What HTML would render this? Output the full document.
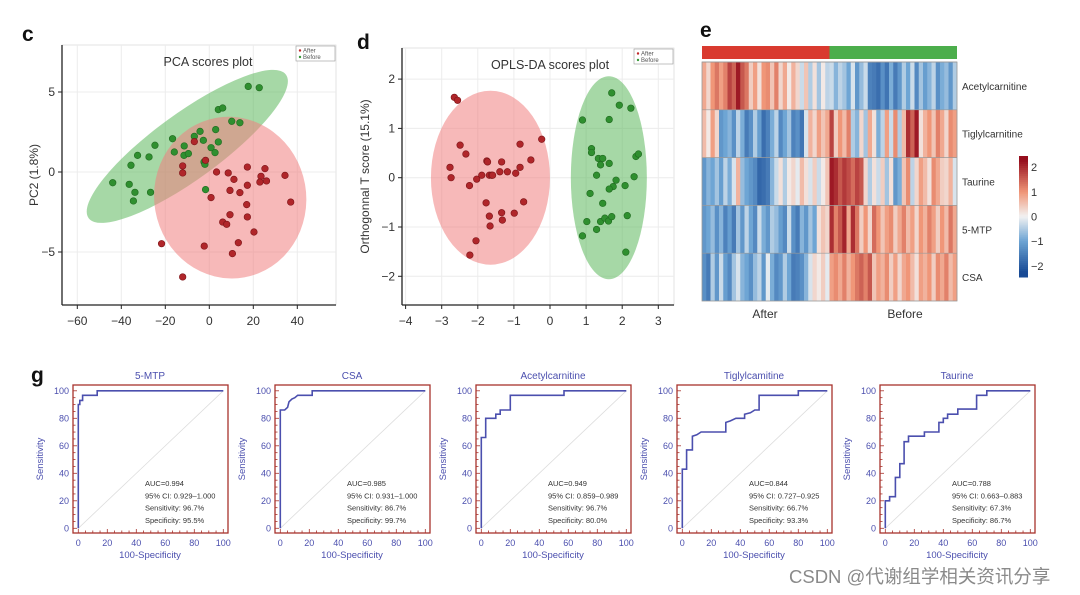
<!DOCTYPE html>
<html><head><meta charset="utf-8"><style>
html,body{margin:0;padding:0;background:#fff;}
svg{display:block;font-family:"Liberation Sans",Arial,sans-serif;}
</style></head><body>
<svg id="fig" width="1080" height="595" viewBox="0 0 1080 595" xmlns="http://www.w3.org/2000/svg"></svg>
<script>
// ---------- PCA data ----------
const pcaGreenX=[17.7,22.7,4.1,6.1,10.2,13.9,-4.2,2.9,-16.7,-6.8,-2.7,4.1,-24.7,-32.6,-27.4,-35.6,-15.9,-11.4,-11.5,-9.5,0.8,2.6,-2.4,-2.0,-43.9,-36.4,-33.8,-26.7,-34.5,-1.7];
const pcaGreenY=[5.35,5.27,3.9,4.0,3.17,3.08,2.54,2.65,2.08,2.23,1.98,1.88,1.67,1.04,0.94,0.42,1.25,1.63,1.04,1.15,1.52,1.21,0.63,0.48,-0.67,-0.77,-1.27,-1.27,-1.81,-1.1];
const pcaRedX=[-6.8,-1.7,-12.1,-12.1,3.3,8.6,11.2,17.3,25.3,23.5,23,26,34.4,17.3,9.4,13.9,0.8,37,17,9.4,17.3,6.1,7.9,20.3,-21.7,-2.3,13.2,10.5,-12.1];
const pcaRedY=[1.9,0.73,0.38,-0.06,0,-0.06,-0.46,0.31,0.21,-0.27,-0.63,-0.56,-0.21,-0.83,-1.15,-1.29,-1.6,-1.88,-2.04,-2.67,-2.81,-3.13,-3.27,-3.75,-4.48,-4.63,-4.42,-5.1,-6.56];
const pcaXTicks=[-60,-40,-20,0,20,40];
const pcaYTicks=[-5,0,5];
// ---------- OPLS data ----------
const oplsRedX=[-2.65,-2.56,-2.49,-2.33,-2.77,-2.74,-2.23,-2.03,-1.89,-1.75,-1.73,-1.68,-1.62,-1.59,-1.34,-1.39,-1.18,-0.95,-0.83,-0.83,-0.53,-0.23,-1.77,-1.68,-1.66,-1.34,-1.32,-0.99,-0.73,-2.05,-2.22];
const oplsRedY=[1.63,1.57,0.66,0.48,0.21,0.0,-0.16,-0.03,0.05,0.34,0.32,0.05,0.05,0.05,0.32,0.12,0.12,0.09,0.68,0.21,0.36,0.78,-0.51,-0.78,-0.98,-0.71,-0.86,-0.72,-0.49,-1.28,-1.57];
const oplsGreenX=[1.71,1.92,2.24,0.9,1.64,1.15,1.15,1.34,1.46,1.4,1.64,2.38,2.45,2.33,1.29,1.83,1.75,1.64,2.08,1.11,1.46,1.02,1.4,1.52,1.62,1.71,2.14,1.29,0.9,2.1];
const oplsGreenY=[1.72,1.47,1.41,1.17,1.18,0.59,0.51,0.39,0.39,0.26,0.29,0.43,0.48,0.02,0.05,-0.05,-0.18,-0.23,-0.16,-0.32,-0.52,-0.89,-0.89,-0.82,-0.88,-0.79,-0.77,-1.05,-1.18,-1.51];
const oplsXTicks=[-4,-3,-2,-1,0,1,2,3];
const oplsYTicks=[-2,-1,0,1,2];
// ---------- Heatmap data ----------
const hmRows=["Acetylcarnitine","Tiglylcarnitine","Taurine","5-MTP","CSA"];
const hmAcetyl=[0.8,0.3,1.0,1.3,0.9,1.2,1.8,1.5,2.2,1.6,1.3,0.4,0.9,0.2,1.0,1.1,0.5,1.2,0.3,0.8,0.1,0.7,0.3,-0.3,0.5,-0.5,0.2,-0.6,0.1,-0.4,-0.3,-0.8,-0.4,-0.6,-1.0,-0.2,-1.2,-0.7,-0.3,-1.5,-1.6,-1.8,-1.3,-1.7,-0.9,-1.6,-1.2,-0.5,-1.0,-0.3,-1.4,-0.6,-1.1,-0.8,-0.4,-1.3,-0.9,-0.7,-1.2,-0.5];
const hmTiglyl=[0.6,0.1,0.9,0.3,-1.2,-1.0,-0.8,-1.3,-0.4,-0.9,-1.6,-1.3,-0.5,-1.1,-1.8,-1.5,-0.9,-0.4,-1.4,-1.0,-0.6,-1.5,-1.3,-1.7,-0.2,0.7,0.3,0.9,0.5,0.8,1.8,0.4,1.0,0.6,1.2,-0.5,-0.8,0.3,-0.6,0.8,0.2,-0.9,-0.4,0.9,-0.3,1.1,-0.5,0.6,2.0,1.5,2.2,0.2,0.7,1.0,0.5,1.2,0.8,0.3,1.1,0.9];
const hmTaurine=[-1.2,-0.8,-1.0,-0.6,-1.1,-0.4,-0.9,-0.2,0.7,-0.7,-1.0,-1.2,-1.4,-1.9,-1.8,-1.6,-0.8,-0.3,0.2,-0.5,0.1,0.3,-0.1,0.6,0.2,-0.2,0.4,-0.3,0.1,0.5,2.2,2.0,1.6,1.9,1.7,1.4,1.8,1.6,0.3,-0.5,0.2,-0.3,0.4,-0.6,0.2,-1.2,-0.9,0.5,1.1,-0.4,0.3,0.9,0.6,0.2,1.1,0.8,0.4,0.3,0.7,-0.2];
const hmMTP=[-1.2,-1.0,-0.7,-1.3,-0.8,-1.5,-1.1,-1.6,-0.6,-1.2,-0.4,-1.0,-1.4,-0.3,-0.9,-1.2,-0.5,-0.7,-1.1,-1.4,-0.3,-1.3,-1.6,-0.8,-1.2,-0.6,-1.0,0.2,0.5,0.3,2.0,1.2,1.6,2.1,0.8,2.0,1.3,0.4,1.0,0.3,1.4,1.0,0.5,0.9,1.1,0.4,0.8,1.2,0.6,0.9,0.3,1.0,0.7,1.2,0.9,0.4,1.0,0.6,1.3,0.8];
const hmCSA=[-1.3,-1.6,-0.5,-1.2,-0.3,-1.1,-1.4,-0.6,-0.2,-0.8,-1.0,-1.3,-0.7,-0.4,-1.2,-0.1,-0.9,-1.4,-1.2,-0.5,-1.0,-1.6,-1.5,-1.3,-0.8,-0.2,0.3,0.1,0.4,-0.1,0.9,1.1,0.8,1.2,0.7,1.0,1.3,1.5,1.2,1.6,0.5,0.9,0.7,1.1,0.4,0.9,0.3,0.8,1.0,0.6,0.2,0.9,0.7,1.0,0.4,1.1,0.8,1.2,0.6,0.9];
const hmGroupSize=[30,30];
const cbTicks=[2,1,0,-1,-2];
// ---------- ROC data ----------
const rocTitles=["5-MTP","CSA","Acetylcarnitine","Tiglylcamitine","Taurine"];
const rocFpr1=[0,0,1,1,3,3,13,13,100];
const rocTpr1=[0,90,90,93,93,96.7,96.7,100,100];
const rocFpr2=[0,0,3,5,6,8,10,12,22,22,100];
const rocTpr2=[0,86,86,88,92,94,95,96.7,96.7,100,100];
const rocFpr3=[0,0,3,3,10,10,13,13,20,20,57,57,100];
const rocTpr3=[0,66,66,80,80,83,83,86,86,96.7,96.7,100,100];
const rocFpr4=[0,0,3,3,7,7,10,13,30,30,33,37,43,43,47,50,53,53,80,80,100];
const rocTpr4=[0,43,43,57,57,67,68,70,70,77,78,80,80,83,84,86,86,96.7,96.7,100,100];
const rocFpr5=[0,0,3,3,7,7,10,10,13,13,16,16,27,27,37,37,40,40,43,43,50,50,63,63,70,70,100];
const rocTpr5=[0,20,20,23,23,37,37,47,47,63,63,67,67,70,70,77,77,80,80,83,83,86.7,86.7,96.7,96.7,100,100];
const rocAUC=["AUC=0.994","AUC=0.985","AUC=0.949","AUC=0.844","AUC=0.788"];
const rocCI=["95% CI: 0.929–1.000","95% CI: 0.931–1.000","95% CI: 0.859–0.989","95% CI: 0.727–0.925","95% CI: 0.663–0.883"];
const rocSens=["Sensitivity: 96.7%","Sensitivity: 86.7%","Sensitivity: 96.7%","Sensitivity: 66.7%","Sensitivity: 67.3%"];
const rocSpec=["Specificity: 95.5%","Specificity: 99.7%","Specificity: 80.0%","Specificity: 93.3%","Specificity: 86.7%"];
const rocXTicks=[0,20,40,60,80,100];
const rocYTicks=[0,20,40,60,80,100];

const NS="http://www.w3.org/2000/svg";
const svg=document.getElementById('fig');
function mk(tag,attrs,parent,txt){const e=document.createElementNS(NS,tag);for(const k in attrs)e.setAttribute(k,attrs[k]);if(txt!==undefined)e.textContent=txt;(parent||svg).appendChild(e);return e;}
function grp(parent){return mk('g',{},parent);}

[["c",22,41],["d",357,49],["e",700,37],["g",31,382]].forEach(l=>{
  const t=mk('text',{x:l[1],y:l[2],'font-size':21,'font-weight':'bold',fill:'#111'},svg,l[0]);
  
  
});

function scatterPanel(o){
  const g=grp();
  
  
  const sx=v=>o.x0+(v-o.xmin)*o.kx, sy=v=>o.y0-(v-o.ymin)*o.ky;
  mk('rect',{x:o.fx,y:o.fy,width:o.fw,height:o.fh,fill:'#fff',stroke:'#ddd','stroke-width':0.8},g);
  o.xt.forEach(v=>{mk('line',{x1:sx(v),x2:sx(v),y1:o.fy,y2:o.fy+o.fh,stroke:'#ececec','stroke-width':1},g);});
  o.yt.forEach(v=>{mk('line',{x1:o.fx,x2:o.fx+o.fw,y1:sy(v),y2:sy(v),stroke:'#ececec','stroke-width':1},g);});
  o.ell.forEach(e=>{
    const el=mk('ellipse',{cx:sx(e.cx),cy:sy(e.cy),rx:e.rx,ry:e.ry,fill:e.fill,'fill-opacity':0.55,transform:`rotate(${e.rot} ${sx(e.cx)} ${sy(e.cy)})`},g);
    
    
  });
  o.series.forEach(s=>{
    s.x.forEach((v,i)=>{
      const c=mk('circle',{cx:sx(v),cy:sy(s.y[i]),r:3.3,fill:s.col,stroke:s.stroke,'stroke-width':0.6},g);
      
      
    });
  });
  mk('line',{x1:o.fx,x2:o.fx,y1:o.fy,y2:o.fy+o.fh,stroke:'#222','stroke-width':1.3},g);
  mk('line',{x1:o.fx,x2:o.fx+o.fw,y1:o.fy+o.fh,y2:o.fy+o.fh,stroke:'#222','stroke-width':1.3},g);
  o.xt.forEach(v=>{
    mk('line',{x1:sx(v),x2:sx(v),y1:o.fy+o.fh,y2:o.fy+o.fh+4,stroke:'#222'},g);
    const t=mk('text',{x:sx(v),y:o.fy+o.fh+20,'text-anchor':'middle','font-size':12,fill:'#333'},g,v<0?'−'+Math.abs(v):v);
    
    
  });
  o.yt.forEach(v=>{
    mk('line',{x1:o.fx-4,x2:o.fx,y1:sy(v),y2:sy(v),stroke:'#222'},g);
    const t=mk('text',{x:o.fx-7,y:sy(v)+4,'text-anchor':'end','font-size':12,fill:'#333'},g,v<0?'−'+Math.abs(v):v);
    
    
  });
  const yt=mk('text',{x:0,y:0,'text-anchor':'middle','font-size':12,fill:'#333',transform:`translate(${o.ylx} ${o.fy+o.fh/2}) rotate(-90)`},g,o.ylab);
  
  
  const tt=mk('text',{x:o.tx,y:o.fy+21,'text-anchor':'middle','font-size':12.5,fill:'#333'},g,o.title);
  
  
  const lg=grp(g);
  
  
  const lx=o.fx+o.fw-40;
  mk('rect',{x:lx,y:o.fy+1,width:39,height:15,fill:'#fff',stroke:'#999','stroke-width':0.6},lg);
  mk('circle',{cx:lx+4,cy:o.fy+5.5,r:1.2,fill:'#c0282a'},lg);
  mk('text',{x:lx+7,y:o.fy+7.5,'font-size':6,fill:'#555'},lg,'After');
  mk('circle',{cx:lx+4,cy:o.fy+12,r:1.2,fill:'#3a9a3a'},lg);
  mk('text',{x:lx+7,y:o.fy+14,'font-size':6,fill:'#555'},lg,'Before');
}

scatterPanel({name:'pca-scores-plot',fx:62,fy:45,fw:274,fh:260,x0:209.3,xmin:0,kx:2.2,y0:172,ymin:0,ky:16,
  xt:pcaXTicks,yt:pcaYTicks,ylab:'PC2 (1.8%)',ylx:38,title:'PCA scores plot',tx:208,
  ell:[{name:'before-ellipse',cx:-10,cy:1.6,rx:122,ry:33,rot:-36,fill:'#5cb85c'},{name:'after-ellipse',cx:9.5,cy:-1.6,rx:76,ry:81,rot:-10,fill:'#f07f7f'}],
  series:[{name:'before-point',x:pcaGreenX,y:pcaGreenY,col:'#2f8f2f',stroke:'#1f6a1f'},{name:'after-point',x:pcaRedX,y:pcaRedY,col:'#b0262a',stroke:'#7c1418'}]});

scatterPanel({name:'opls-da-scores-plot',fx:402,fy:48,fw:272,fh:257,x0:550,xmin:0,kx:36.1,y0:177.7,ymin:0,ky:49.3,
  xt:oplsXTicks,yt:oplsYTicks,ylab:'Orthogonnal T score  (15.1%)',ylx:369,title:'OPLS-DA scores plot',tx:550,
  ell:[{name:'after-ellipse',cx:-1.65,cy:0,rx:59.5,ry:87,rot:0,fill:'#f07f7f'},{name:'before-ellipse',cx:1.63,cy:0,rx:38,ry:101.5,rot:0,fill:'#5cb85c'}],
  series:[{name:'after-point',x:oplsRedX,y:oplsRedY,col:'#b0262a',stroke:'#7c1418'},{name:'before-point',x:oplsGreenX,y:oplsGreenY,col:'#2f8f2f',stroke:'#1f6a1f'}]});

const stops=[[-2.3,[25,75,150]],[-1,[110,165,212]],[0,[242,242,242]],[1,[240,150,120]],[2.3,[150,15,30]]];
function cmap(v){
  if(v<=stops[0][0])return `rgb(${stops[0][1]})`;
  for(let i=0;i<stops.length-1;i++){const a=stops[i],b=stops[i+1];if(v<=b[0]){const t=(v-a[0])/(b[0]-a[0]);return `rgb(${a[1].map((c,j)=>Math.round(c+(b[1][j]-c)*t)).join(',')})`;}}
  return `rgb(${stops[stops.length-1][1]})`;
}
(function(){
  const g=grp();
  
  
  const hx=702,hw=255,hy=62,rh=47.8;
  const rows=[hmAcetyl,hmTiglyl,hmTaurine,hmMTP,hmCSA];
  const n=hmAcetyl.length,cw=hw/n;
  const split=hx+cw*hmGroupSize[0];
  const ga=mk('rect',{x:hx,y:46,width:split-hx,height:13,fill:'#d93a2f'},g);
  
  
  const gb=mk('rect',{x:split,y:46,width:hx+hw-split,height:13,fill:'#4cae4c'},g);
  
  
  rows.forEach((r,ri)=>{
    r.forEach((v,ci)=>{
      const c=mk('rect',{x:hx+ci*cw,y:hy+ri*rh,width:cw+0.3,height:rh,fill:cmap(v)},g);
      
      
    });
    mk('line',{x1:hx,x2:hx+hw,y1:hy+ri*rh,y2:hy+ri*rh,stroke:'#999','stroke-width':0.7},g);
    const t=mk('text',{x:962,y:hy+ri*rh+rh/2+4,'font-size':10,fill:'#333'},g,hmRows[ri]);
    
    
  });
  mk('rect',{x:hx,y:hy,width:hw,height:rh*5,fill:'none',stroke:'#999','stroke-width':0.8},g);
  const a=mk('text',{x:765,y:318,'text-anchor':'middle','font-size':12,fill:'#333'},g,'After');
  
  
  const b=mk('text',{x:905,y:318,'text-anchor':'middle','font-size':12,fill:'#333'},g,'Before');
  
  
  const cb=grp(g);
  
  
  const cy0=156,cy1=277,N=60;
  for(let i=0;i<N;i++){const v=2.45-4.9*i/(N-1);mk('rect',{x:1019,y:cy0+(cy1-cy0)*i/N,width:9,height:(cy1-cy0)/N+0.5,fill:cmap(v)},cb);}
  cbTicks.forEach(v=>{
    const y=cy0+(2.45-v)/4.9*(cy1-cy0);
    const t=mk('text',{x:1031,y:y+4,'font-size':11,fill:'#333'},cb,v<0?'−'+Math.abs(v):v);
    
    
  });
})();

const rocF=[rocFpr1,rocFpr2,rocFpr3,rocFpr4,rocFpr5];
const rocT=[rocTpr1,rocTpr2,rocTpr3,rocTpr4,rocTpr5];
const frames=[73,275,476,677,880];
frames.forEach((fx,p)=>{
  const g=grp();
  
  
  const x0=fx+5.3,w=145,y0=528.3,h=137.5;
  const sx=v=>x0+v/100*w, sy=v=>y0-v/100*h;
  const blue='#4b4fae',red='#a8322c';
  mk('line',{x1:sx(0),y1:sy(0),x2:sx(100),y2:sy(100),stroke:'#ddd','stroke-width':0.8},g);
  for(let v=0;v<=100;v+=5){
    const L=v%20===0?4:2.5;
    mk('line',{x1:sx(v),x2:sx(v),y1:533,y2:533-L,stroke:red,'stroke-width':0.8},g);
    mk('line',{x1:fx,x2:fx+L,y1:sy(v),y2:sy(v),stroke:red,'stroke-width':0.8},g);
  }
  let d='';
  rocF[p].forEach((v,i)=>{d+=(i?'L':'M')+sx(v).toFixed(1)+' '+sy(rocT[p][i]).toFixed(1);});
  const line=mk('path',{d:d,fill:'none',stroke:blue,'stroke-width':1.6},g);
  
  
  mk('rect',{x:fx,y:385,width:155,height:148,fill:'none',stroke:red,'stroke-width':1.3},g);
  rocXTicks.forEach(v=>{
    const t=mk('text',{x:sx(v),y:546,'text-anchor':'middle','font-size':9,fill:blue},g,v);
    
    
  });
  rocYTicks.forEach(v=>{
    const t=mk('text',{x:fx-4,y:sy(v)+3,'text-anchor':'end','font-size':9,fill:blue},g,v);
    
    
  });
  const tt=mk('text',{x:fx+77,y:379,'text-anchor':'middle','font-size':10,fill:blue},g,rocTitles[p]);
  
  
  const xl=mk('text',{x:fx+77,y:558,'text-anchor':'middle','font-size':9.5,fill:blue},g,'100-Specificity');
  
  
  const yl=mk('text',{x:0,y:0,'text-anchor':'middle','font-size':9.5,fill:blue,transform:`translate(${fx-30} 459) rotate(-90)`},g,'Sensitivity');
  
  
  const st=grp(g);
  
  
  [rocAUC[p],rocCI[p],rocSens[p],rocSpec[p]].forEach((s,i)=>{
    mk('text',{x:fx+72,y:486+i*12.3,'font-size':7.5,fill:'#333'},st,s);
  });
});

const wm=mk('text',{x:789,y:583,'font-size':18.5,fill:'#8a8a8a','font-family':'"Liberation Sans","Noto Sans CJK SC",sans-serif'},svg,'CSDN @代谢组学相关资讯分享');


</script>
</body></html>
